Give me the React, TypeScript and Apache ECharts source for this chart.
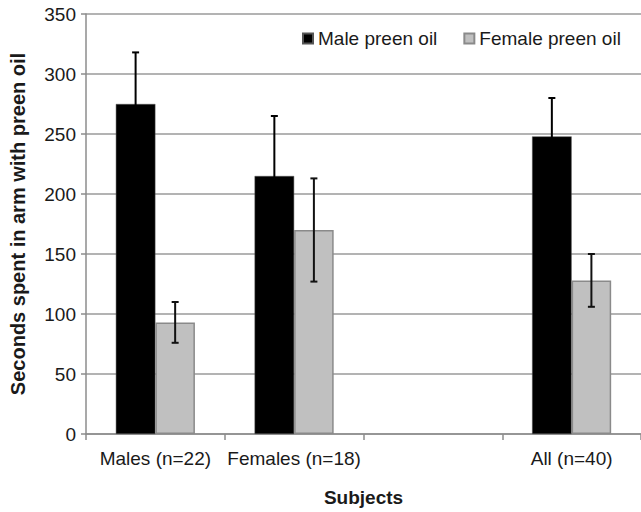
import React, { useEffect, useRef } from "react";
import * as echarts from "echarts";

const categories = ["Males (n=22)", "Females (n=18)", "", "All (n=40)"];
const maleMean = [275, 215, null, 248];
const maleErr = [43, 50, null, 32];
const femaleMean = [93, 170, null, 128];
const femaleErr = [17, 43, null, 22];
const seriesNames = ["Male preen oil", "Female preen oil"];
const yTicks = { min: 0, max: 350, interval: 50 };

const FONT = "'Liberation Sans', Arial, Helvetica, sans-serif";
const BAR_FRAC = 0.285;

function errorSeries(means: (number | null)[], errs: (number | null)[], side: number, color: string) {
  const data = means
    .map((m, i) => (m == null ? null : [i, m, errs[i]]))
    .filter((d) => d != null);
  return {
    type: "custom",
    silent: true,
    z: 10,
    data,
    renderItem: (params: any, api: any) => {
      const i = api.value(0);
      const m = api.value(1);
      const e = api.value(2);
      const catW = api.size([1, 0])[0];
      const base = api.coord([i, m]);
      const x = base[0] + (side * catW * BAR_FRAC) / 2;
      const top = api.coord([i, m + e])[1];
      const bot = api.coord([i, m - e])[1];
      const cap = 3.5;
      const style = { stroke: color, lineWidth: 2 };
      return {
        type: "group",
        children: [
          { type: "line", shape: { x1: x, y1: top, x2: x, y2: bot }, style },
          { type: "line", shape: { x1: x - cap, y1: top, x2: x + cap, y2: top }, style },
          { type: "line", shape: { x1: x - cap, y1: bot, x2: x + cap, y2: bot }, style },
        ],
      };
    },
  };
}

export default function App() {
  const ref = useRef<HTMLDivElement>(null);
  useEffect(() => {
    if (!ref.current) return;
    const chart = echarts.init(ref.current, undefined, { renderer: "svg" });
    chart.setOption({
      animation: false,
      backgroundColor: "#ffffff",
      textStyle: { fontFamily: FONT },
      grid: { left: 86, top: 14, bottom: 78, width: 559 },
      legend: {
        left: 302,
        top: 29,
        padding: 0,
        itemWidth: 10,
        itemHeight: 10,
        itemGap: 26,
        icon: "rect",
        textStyle: { fontFamily: FONT, fontSize: 19, color: "#1a1a1a" },
        data: seriesNames,
      },
      xAxis: {
        type: "category",
        data: categories,
        name: "Subjects",
        nameLocation: "middle",
        nameGap: 54,
        nameTextStyle: { fontFamily: FONT, fontSize: 19, fontWeight: "bold", color: "#1a1a1a" },
        axisLine: { lineStyle: { color: "#8c8c8c", width: 1.5 } },
        axisTick: { show: true, length: 6, lineStyle: { color: "#8c8c8c", width: 1.5 } },
        axisLabel: { fontFamily: FONT, fontSize: 19, color: "#1a1a1a", margin: 15, interval: 0 },
      },
      yAxis: {
        type: "value",
        min: yTicks.min,
        max: yTicks.max,
        interval: yTicks.interval,
        name: "Seconds spent in arm with preen oil",
        nameLocation: "middle",
        nameGap: 58,
        nameRotate: 90,
        nameTextStyle: { fontFamily: FONT, fontSize: 20, fontWeight: "bold", color: "#1a1a1a" },
        axisLine: { show: true, lineStyle: { color: "#8c8c8c", width: 1.5 } },
        axisTick: { show: true, length: 5, lineStyle: { color: "#8c8c8c", width: 1.5 } },
        axisLabel: { fontFamily: FONT, fontSize: 19, color: "#1a1a1a", margin: 10 },
        splitLine: { lineStyle: { color: "#9a9a9a", width: 1.5 } },
      },
      series: [
        {
          name: seriesNames[0],
          type: "bar",
          data: maleMean,
          barWidth: BAR_FRAC * 100 + "%",
          barGap: "0%",
          itemStyle: { color: "#000000", borderColor: "#555555", borderWidth: 0.5 },
        },
        {
          name: seriesNames[1],
          type: "bar",
          data: femaleMean,
          barWidth: BAR_FRAC * 100 + "%",
          barGap: "0%",
          itemStyle: { color: "#c0c0c0", borderColor: "#8a8a8a", borderWidth: 1.5 },
        },
        errorSeries(maleMean, maleErr, -1, "#000000"),
        errorSeries(femaleMean, femaleErr, 1, "#111111"),
      ],
    });
    return () => chart.dispose();
  }, []);
  return (
    <div
      ref={ref}
      style={{ position: "fixed", left: 0, top: 0, width: 641, height: 512 }}
    />
  );
}
